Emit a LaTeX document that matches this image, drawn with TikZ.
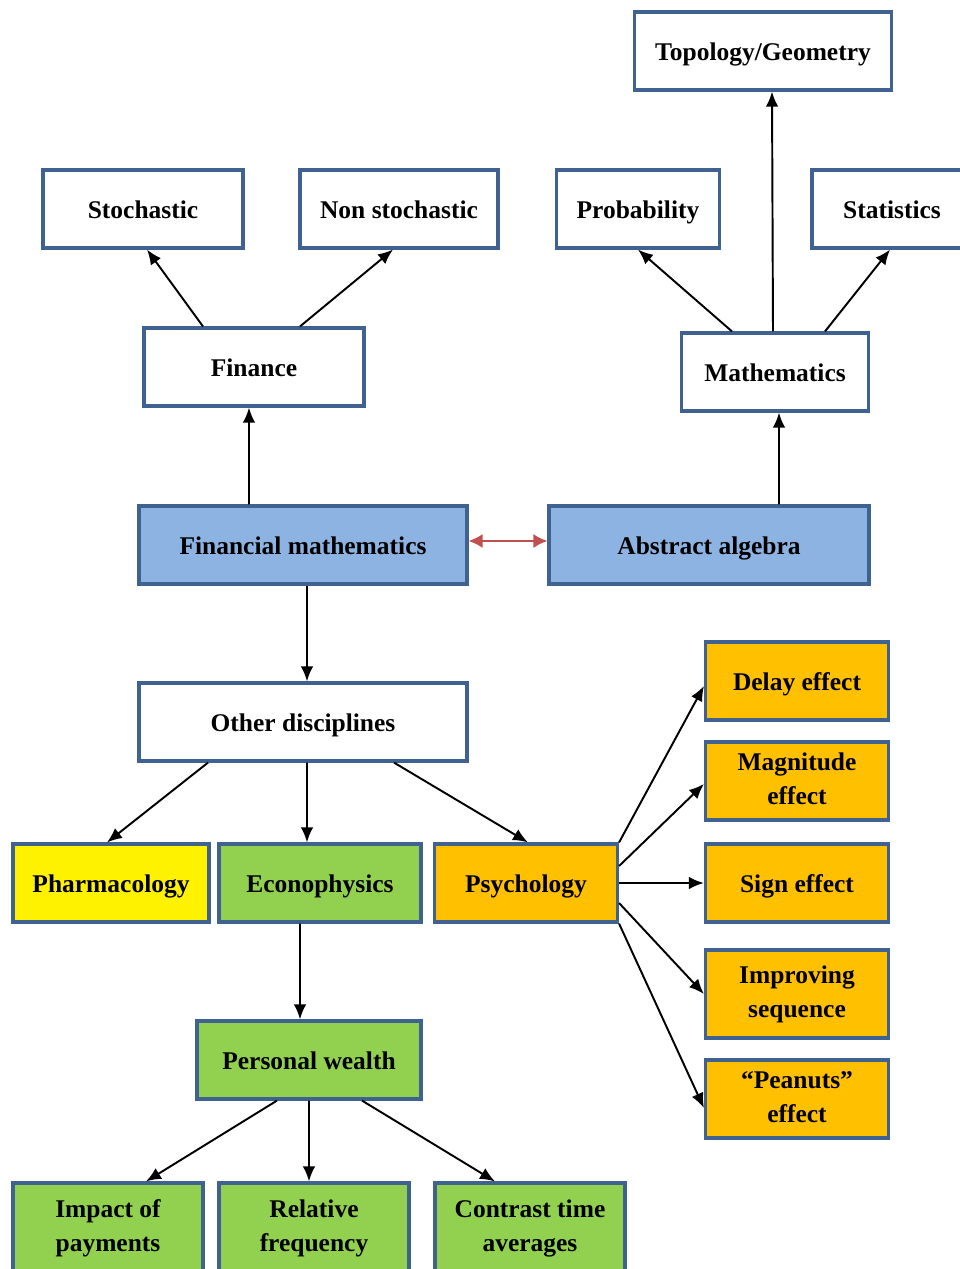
\documentclass[tikz,border=0pt]{standalone}
\usepackage{fontspec}
\setmainfont{Liberation Serif}
\usetikzlibrary{arrows.meta}
\definecolor{edgeblue}{RGB}{63,98,145}
\definecolor{algblue}{RGB}{141,179,226}
\definecolor{leafgreen}{RGB}{146,208,80}
\definecolor{psyorange}{RGB}{255,192,0}
\definecolor{linkred}{RGB}{192,80,77}
\newcommand{\boxstrut}{\rule[-0.16em]{0pt}{1.1em}}

\begin{document}
\begin{tikzpicture}[x=0.02cm, y=-0.02cm,
    box/.style={rectangle, draw=edgeblue, line width=1.8pt, fill=white, align=center, minimum height=1.56cm, inner sep=2pt, font=\fontsize{14.5}{19.4}\selectfont\bfseries, execute at begin node=\boxstrut, execute at end node=\boxstrut},
    link/.style={-{Latex[length=3mm,width=2.5mm]}, line width=1.1pt}
]
    \clip (0,0) rectangle (960,1269);

    % top rows
    \node[box, minimum width=5.14cm] (topo) at (763,51) {Topology/Geometry};
    \node[box, minimum width=4cm] (stoch) at (143,209) {Stochastic};
    \node[box, minimum width=3.96cm] (nonstoch) at (399,209) {Non stochastic};
    \node[box, minimum width=3.26cm] (prob) at (638,209) {Probability};
    \node[box, minimum width=3.2cm] (stat) at (892,209) {Statistics};
    \node[box, minimum width=4.4cm] (finance) at (254,367) {Finance};
    \node[box, minimum width=3.74cm] (maths) at (775,372) {Mathematics};

    % centre row
    \node[box, fill=algblue, minimum width=6.56cm] (finmath) at (303,545) {Financial mathematics};
    \node[box, fill=algblue, minimum width=6.4cm] (algebra) at (709,545) {Abstract algebra};
    \node[box, minimum width=6.56cm] (other) at (303,722) {Other disciplines};

    % disciplines
    \node[box, fill=yellow, minimum width=3.92cm] (pharma) at (111,883) {Pharmacology};
    \node[box, fill=leafgreen, minimum width=4.04cm] (econo) at (320,883) {Econophysics};
    \node[box, fill=psyorange, minimum width=3.66cm] (psych) at (526,883) {Psychology};

    % psychology effects
    \node[box, fill=psyorange, minimum width=3.66cm] (delay) at (797,681) {Delay effect};
    \node[box, fill=psyorange, minimum width=3.66cm] (magn) at (797,781) {Magnitude\\effect};
    \node[box, fill=psyorange, minimum width=3.66cm] (sign) at (797,883) {Sign effect};
    \node[box, fill=psyorange, minimum width=3.66cm, minimum height=1.76cm] (improv) at (797,994) {Improving\\sequence};
    \node[box, fill=psyorange, minimum width=3.66cm] (peanuts) at (797,1099) {``Peanuts''\\effect};

    % personal wealth
    \node[box, fill=leafgreen, minimum width=4.48cm] (wealth) at (309,1060) {Personal wealth};
    \node[box, fill=leafgreen, minimum width=3.8cm, minimum height=1.8cm] (impact) at (108,1228) {Impact of\\payments};
    \node[box, fill=leafgreen, minimum width=3.8cm, minimum height=1.8cm] (relfreq) at (314,1228) {Relative\\frequency};
    \node[box, fill=leafgreen, minimum width=3.8cm, minimum height=1.8cm] (contrast) at (530,1228) {Contrast time\\averages};

    % connectors
    \draw[link] ([xshift=-1.02cm]finance.north) -- ([xshift=0.08cm]stoch.south);
    \draw[link] ([xshift=0.92cm]finance.north) -- ([xshift=-0.12cm]nonstoch.south);
    \draw[link] ([xshift=-1.08cm]finmath.north) -- ([xshift=-0.1cm]finance.south);
    \draw[link] ([xshift=-0.86cm]maths.north) -- (prob.south);
    \draw[link] ([xshift=-0.04cm]maths.north) -- ([xshift=0.18cm]topo.south);
    \draw[link] ([xshift=1cm]maths.north) -- ([xshift=-0.04cm]stat.south);
    \draw[link] ([xshift=1.4cm]algebra.north) -- ([xshift=0.08cm]maths.south);
    \draw[{Latex[length=2.8mm,width=2.8mm]}-{Latex[length=2.8mm,width=2.8mm]}, linkred, line width=1.1pt] ([yshift=0.08cm]finmath.east) -- ([yshift=0.08cm]algebra.west);
    \draw[link] ([xshift=0.08cm]finmath.south) -- ([xshift=0.08cm]other.north);

    \draw[link] ([xshift=-1.9cm]other.south) -- ([xshift=-0.08cm]pharma.north);
    \draw[link] ([xshift=0.08cm]other.south) -- ([xshift=-0.26cm]econo.north);
    \draw[link] ([xshift=1.82cm]other.south) -- ([xshift=0.04cm]psych.north);

    \draw[link] (psych.north east) -- ([yshift=-0.1cm]delay.west);
    \draw[link] ([yshift=0.34cm]psych.east) -- ([yshift=-0.06cm]magn.west);
    \draw[link] (psych.east) -- (sign.west);
    \draw[link] ([yshift=-0.4cm]psych.east) -- (improv.west);
    \draw[link] (psych.south east) -- ([yshift=-0.18cm]peanuts.west);

    \draw[link] ([xshift=-0.4cm]econo.south) -- ([xshift=-0.18cm]wealth.north);
    \draw[link] ([xshift=-0.64cm]wealth.south) -- ([xshift=0.76cm]impact.north);
    \draw[link] (wealth.south) -- ([xshift=-0.1cm]relfreq.north);
    \draw[link] ([xshift=1.06cm]wealth.south) -- ([xshift=-0.7cm]contrast.north);
\end{tikzpicture}
\end{document}
